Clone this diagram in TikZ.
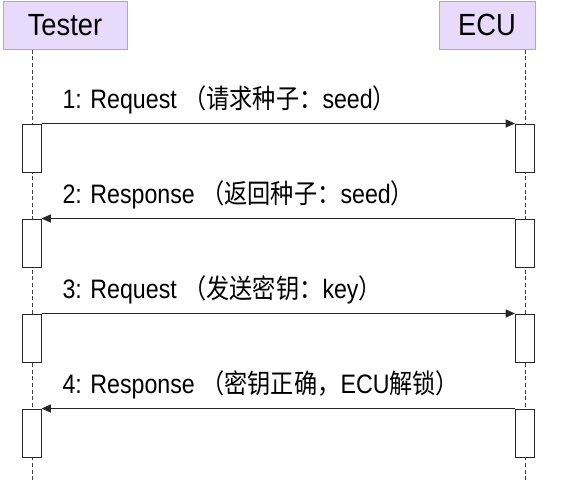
\documentclass[tikz,border=0pt]{standalone}
\usepackage{fontspec}
\setmainfont{Liberation Sans}
\newfontfamily\cjk{Noto Sans CJK SC}
\usetikzlibrary{arrows.meta}
\definecolor{headfill}{RGB}{232,218,250}
\definecolor{headline}{RGB}{178,168,190}
\tikzset{every picture/.style={line width=0.75pt}}
\tikzset{
	head/.style={draw=headline, fill=headfill, minimum height=36pt, inner sep=0pt},
	headtext/.style={inner sep=0pt, yscale=1.12, font=\fontsize{20.5}{24}\selectfont},
	act/.style={draw=black!85, fill=white, minimum width=14.25pt, minimum height=36pt, inner sep=0pt},
	life/.style={draw=black!75, dash pattern={on 3pt off 2pt}},
	msg/.style={draw=black!85, -{Triangle[length=7pt,width=6pt]}},
	msgtext/.style={anchor=base west, inner sep=0pt, yscale=1.15, font=\fontsize{17.4}{20}\selectfont}}

\begin{document}
\begin{tikzpicture}[x=0.75pt,y=0.75pt,yscale=-1,xscale=1]
	\useasboundingbox (0,0) rectangle (567,480);
	
	% Lifeline heads
	\node [head, minimum width=93pt] (tester) at (65,25) {};
	\node [head, minimum width=72pt] (ecu) at (487,25) {};
	\node [headtext] (testerlbl) at (tester.center) {Tester};
	\node [headtext] (eculbl) at (ecu.center) {ECU};
	\coordinate (tend) at (32,480);
	\coordinate (eend) at (525,480);
	
	% Lifelines
	\draw [life] (tend |- tester.south) -- (tend);
	\draw [life] (eend |- ecu.south) -- (eend);
	
	% Activation boxes
	\foreach \i/\y in {1/148, 2/243, 3/338, 4/433}{
		\node [act] (t\i) at (31.5,\y) {};
		\node [act] (e\i) at (525,\y) {};
	}
	
	% Messages
	\draw [msg] (t1.north east) -- (e1.north west);
	\draw [msg] (e2.north west) -- (t2.north east);
	\draw [msg] (t3.north east) -- (e3.north west);
	\draw [msg] (e4.north west) -- (t4.north east);
	
	% Text Node
	\node [msgtext] (m1) at (62,108) {1: Request {\cjk （请求种子：}seed{\cjk ）}};
	% Text Node
	\node [msgtext] (m2) at (62,203) {2: Response {\cjk （返回种子：}seed{\cjk ）}};
	% Text Node
	\node [msgtext] (m3) at (62,298) {3: Request {\cjk （发送密钥：}key{\cjk ）}};
	% Text Node
	\node [msgtext] (m4) at (62,393) {4: Response {\cjk （密钥正确，}ECU{\cjk 解锁）}};
	
\end{tikzpicture}
\end{document}
